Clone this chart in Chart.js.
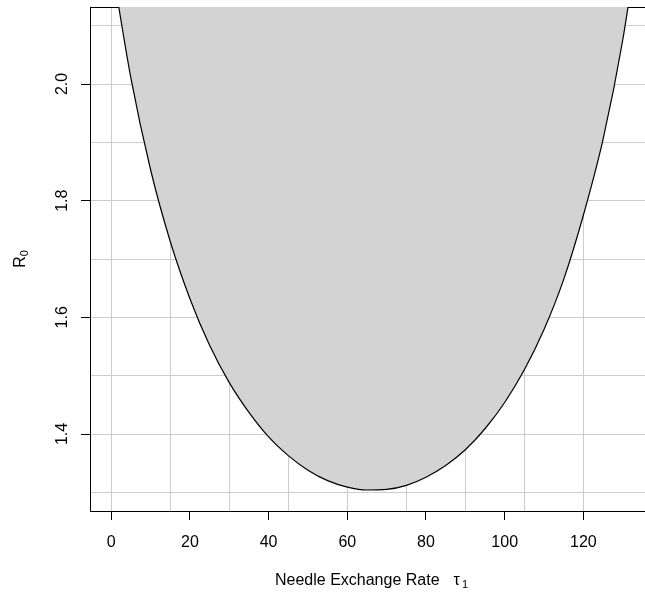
<!DOCTYPE html>
<html>
<head>
<meta charset="utf-8">
<script src="https://cdn.jsdelivr.net/npm/chart.js@4/dist/chart.umd.min.js"></script>
<style>
  html, body { margin: 0; padding: 0; background: #ffffff; overflow: hidden; }
  #wrap { position: relative; width: 700px; height: 592px; }
</style>
</head>
<body>
<div id="wrap"><canvas id="chart" width="700" height="592"></canvas></div>
<script>
// Threshold curve: basic reproduction number against needle exchange rate
const tau1 = [0, 5, 10, 15, 20, 25, 30, 35, 40, 45, 50, 55, 60, 65,
              70, 75, 80, 85, 90, 95, 100, 105, 110, 115, 120, 125, 130, 135];
const r0   = [2.211, 2.010, 1.853, 1.730, 1.632, 1.552, 1.488, 1.437, 1.395, 1.363,
              1.338, 1.320, 1.309, 1.304, 1.305, 1.312, 1.326, 1.346, 1.373, 1.409,
              1.454, 1.510, 1.579, 1.665, 1.775, 1.905, 2.075, 2.298];

// Axis labelling and reference lines
const xTickValues = [0, 20, 40, 60, 80, 100, 120];
const yTickValues = [1.4, 1.6, 1.8, 2.0];
const xGridValues = [0, 15, 30, 45, 60, 75, 90, 105, 120];
const yGridValues = [1.3, 1.4, 1.5, 1.6, 1.7, 1.8, 1.9, 2.0, 2.1];
const xRange = [-5.4, 137.7];
const yRange = [1.268, 2.132];

const xTitle = 'Needle Exchange Rate';
const xTitleSymbol = 'τ';
const xTitleSub = '1';
const yTitle = 'R';
const yTitleSub = '0';

const FONT = '"Liberation Sans", Arial, Helvetica, sans-serif';

const setTicks = values => scale => { scale.ticks = values.map(v => ({ value: v })); };

// Box edges (top/right), rotated y labels and axis titles with subscripts
const decorations = {
  id: 'decorations',
  beforeDatasetsDraw(chart) {
    const { ctx, chartArea: a } = chart;
    ctx.save();
    ctx.strokeStyle = '#000';
    ctx.lineWidth = 1;
    ctx.beginPath();
    ctx.moveTo(a.left, a.top + 0.5);
    ctx.lineTo(a.right + 0.5, a.top + 0.5);
    ctx.lineTo(a.right + 0.5, a.bottom);
    ctx.stroke();
    ctx.restore();
  },
  afterDraw(chart) {
    const { ctx, chartArea: a } = chart;
    const ys = chart.scales.y;
    ctx.save();
    ctx.fillStyle = '#000';

    // y tick labels, reading upwards
    ctx.font = '16px ' + FONT;
    ctx.textAlign = 'center';
    ctx.textBaseline = 'alphabetic';
    yTickValues.forEach(v => {
      const py = ys.getPixelForValue(v);
      ctx.save();
      ctx.translate(a.left - 23.5, py);
      ctx.rotate(-Math.PI / 2);
      ctx.fillText(v.toFixed(1), 0, 0);
      ctx.restore();
    });

    // x axis title
    const cx = (a.left + a.right) / 2;
    const base = a.bottom + 74;
    ctx.font = '16px ' + FONT;
    const w1 = ctx.measureText(xTitle).width;
    const gap = 14;
    const w2 = ctx.measureText(xTitleSymbol).width;
    ctx.font = '11px ' + FONT;
    const w3 = ctx.measureText(xTitleSub).width;
    const total = w1 + gap + w2 + 2 + w3;
    let x0 = cx - total / 2;
    ctx.textAlign = 'left';
    ctx.font = '16px ' + FONT;
    ctx.fillText(xTitle, x0, base);
    ctx.fillText(xTitleSymbol, x0 + w1 + gap, base);
    ctx.font = '11px ' + FONT;
    ctx.fillText(xTitleSub, x0 + w1 + gap + w2 + 2, base + 3);

    // y axis title
    const cy = (a.top + a.bottom) / 2;
    ctx.save();
    ctx.translate(a.left - 65, cy);
    ctx.rotate(-Math.PI / 2);
    ctx.font = '16px ' + FONT;
    const r1 = ctx.measureText(yTitle).width;
    ctx.font = '11px ' + FONT;
    const r2 = ctx.measureText(yTitleSub).width;
    const t = r1 + r2;
    ctx.textAlign = 'left';
    ctx.font = '16px ' + FONT;
    ctx.fillText(yTitle, -t / 2, 0);
    ctx.font = '11px ' + FONT;
    ctx.fillText(yTitleSub, -t / 2 + r1, 3);
    ctx.restore();

    ctx.restore();
  }
};

new Chart(document.getElementById('chart'), {
  type: 'line',
  data: {
    datasets: [{
      data: tau1.map((x, i) => ({ x: x, y: r0[i] })),
      borderColor: '#000000',
      borderWidth: 1.2,
      pointRadius: 0,
      fill: 'end',
      backgroundColor: '#D3D3D3',
      cubicInterpolationMode: 'monotone',
      xAxisID: 'x',
      yAxisID: 'y'
    }]
  },
  options: {
    responsive: false,
    animation: false,
    devicePixelRatio: 1,
    layout: { padding: { left: 0, top: 7, right: 47, bottom: 0 } },
    plugins: { legend: { display: false }, tooltip: { enabled: false } },
    scales: {
      x: {
        type: 'linear', position: 'bottom', min: xRange[0], max: xRange[1],
        afterBuildTicks: setTicks(xTickValues),
        afterFit: s => { s.height = 81; },
        grid: { display: true, drawOnChartArea: false, drawTicks: true, tickLength: 9, tickColor: '#000', color: '#000' },
        border: { display: true, color: '#000', width: 1 },
        ticks: { color: '#000', font: { family: FONT, size: 16 }, padding: 13, maxRotation: 0, autoSkip: false }
      },
      xg: {
        type: 'linear', position: 'bottom', min: xRange[0], max: xRange[1],
        afterBuildTicks: setTicks(xGridValues),
        afterFit: s => { s.height = 0; },
        grid: { display: true, drawOnChartArea: true, drawTicks: false, color: '#CCCCCC', lineWidth: 1 },
        border: { display: false },
        ticks: { display: false }
      },
      y: {
        type: 'linear', position: 'left', min: yRange[0], max: yRange[1],
        afterBuildTicks: setTicks(yTickValues),
        afterFit: s => { s.width = 90; },
        grid: { display: true, drawOnChartArea: false, drawTicks: true, tickLength: 9, tickColor: '#000', color: '#000' },
        border: { display: true, color: '#000', width: 1 },
        ticks: { display: false }
      },
      yg: {
        type: 'linear', position: 'left', min: yRange[0], max: yRange[1],
        afterBuildTicks: setTicks(yGridValues),
        afterFit: s => { s.width = 0; },
        grid: { display: true, drawOnChartArea: true, drawTicks: false, color: '#CCCCCC', lineWidth: 1 },
        border: { display: false },
        ticks: { display: false }
      }
    }
  },
  plugins: [decorations]
});
</script>
</body>
</html>
